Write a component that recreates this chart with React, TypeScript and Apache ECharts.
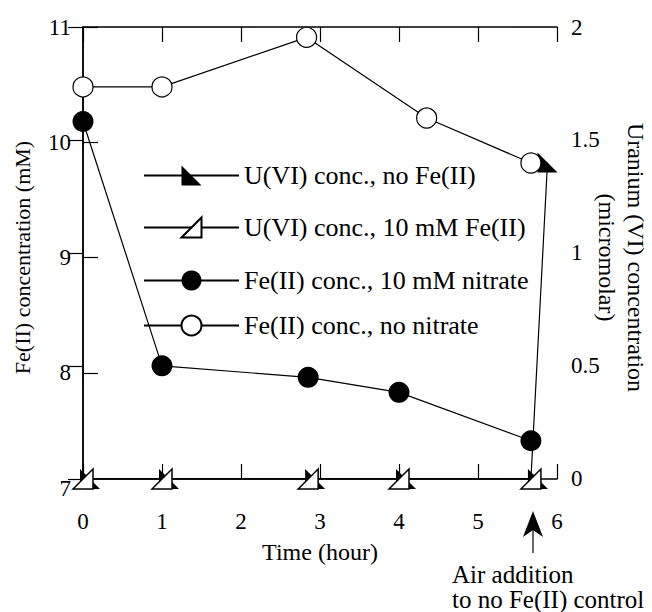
import React, { useEffect, useRef } from 'react';
import * as echarts from 'echarts';

// Data
const uTimes = [0, 1, 2.85, 4, 5.67];
const uNoFe = [0, 0, 0, 0, 0];
const uNoFeAfterAirTime = 5.88;
const uNoFeAfterAirValue = 1.4;
const uWithFe = [0, 0, 0, 0, 0];
const nitrateTimes = [0, 1, 2.85, 4, 5.67];
const feNitrate = [10.18, 8.06, 7.96, 7.83, 7.41];
const noNitrateTimes = [0, 1, 2.83, 4.35, 5.67];
const feNoNitrate = [10.48, 10.48, 10.91, 10.21, 9.82];
const rightTicks = [0, 0.5, 1, 1.5, 2];

const names = [
  'U(VI) conc., no Fe(II)',
  'U(VI) conc., 10 mM Fe(II)',
  'Fe(II) conc., 10 mM nitrate',
  'Fe(II) conc., no nitrate',
];

const FONT = '"Liberation Serif", "Times New Roman", serif';

export default function App() {
  const ref = useRef<HTMLDivElement>(null);
  useEffect(() => {
    document.body.style.margin = '0';
    const chart = echarts.init(ref.current!, undefined, { renderer: 'svg' });
    const axisLine = { show: true, lineStyle: { color: '#000', width: 1.5 } };
    const tick = { show: true, inside: true, length: 15, lineStyle: { color: '#000', width: 1.2 } };
    const lbl = { color: '#000', fontSize: 23, fontFamily: FONT };

    const filledTri = 'path://M0,0L0,10L10,10Z';
    const openTri = 'path://M10,0L10,10L0,10Z';

    const noFeData: any[] = uTimes.map((t, i) => [t, uNoFe[i]]);
    noFeData.push({ value: [uNoFeAfterAirTime, uNoFeAfterAirValue], symbolOffset: [0, 0] });

    const legendTops = [175, 227, 280, 325];

    chart.setOption({
      animation: false,
      backgroundColor: '#fff',
      textStyle: { fontFamily: FONT, color: '#000' },
      grid: { left: 83, right: 95, top: 27, bottom: 124, containLabel: false, outerBoundsMode: 'none' },
      legend: names.map((n, i) => ({
        data: [n],
        left: 143,
        top: legendTops[i] - 12.5,
        orient: 'vertical',
        itemWidth: 95,
        itemHeight: 25,
        padding: 0,
        selectedMode: false,
        textStyle: { fontSize: 26, fontFamily: FONT, color: '#000' },
      })),
      xAxis: [
        {
          type: 'value', min: 0, max: 6, interval: 1, position: 'bottom',
          name: 'Time (hour)', nameLocation: 'middle', nameGap: 52,
          nameTextStyle: { fontSize: 24, fontFamily: FONT, color: '#000' },
          axisLine, axisTick: tick, splitLine: { show: false },
          axisLabel: { ...lbl, margin: 22 },
        },
        {
          type: 'value', min: 0, max: 6, interval: 1, position: 'top',
          axisLine, axisTick: tick, splitLine: { show: false },
          axisLabel: { show: false },
        },
      ],
      yAxis: [
        {
          type: 'value', min: 7, max: 11, interval: 1, position: 'left',
          name: 'Fe(II) concentration (mM)', nameLocation: 'middle', nameGap: 50,
          nameTextStyle: { fontSize: 22, fontFamily: FONT, color: '#000' },
          axisLine, axisTick: tick, splitLine: { show: false },
          axisLabel: { ...lbl, margin: 12 },
        },
        {
          type: 'value', min: -0.04, max: 2, position: 'right',
          name: 'Uranium (VI) concentration\n(micromolar)', nameLocation: 'middle', nameGap: 35,
          nameMoveOverlap: false,
          nameRotate: -90,
          nameTextStyle: { fontSize: 24, fontFamily: FONT, color: '#000', lineHeight: 29, align: 'center' },
          axisLine, axisTick: { ...tick, customValues: rightTicks }, splitLine: { show: false },
          axisLabel: { ...lbl, margin: 14, customValues: rightTicks },
        },
      ],
      series: [
        {
          name: names[0], type: 'line', yAxisIndex: 1, xAxisIndex: 0,
          data: noFeData,
          symbol: filledTri, symbolSize: 20, symbolOffset: [7, 0],
          itemStyle: { color: '#000' },
          lineStyle: { color: '#000', width: 1.2 },
          z: 2,
        },
        {
          name: names[1], type: 'line', yAxisIndex: 1, xAxisIndex: 0,
          data: uTimes.map((t, i) => [t, uWithFe[i]]),
          symbol: openTri, symbolSize: 20,
          itemStyle: { color: '#fff', borderColor: '#000', borderWidth: 1.5 },
          lineStyle: { color: '#000', width: 1.2 },
          z: 3,
        },
        {
          name: names[2], type: 'line', yAxisIndex: 0, xAxisIndex: 0,
          data: nitrateTimes.map((t, i) => [t, feNitrate[i]]),
          symbol: 'circle', symbolSize: 21,
          itemStyle: { color: '#000' },
          lineStyle: { color: '#000', width: 1.2 },
          z: 4,
        },
        {
          name: names[3], type: 'line', yAxisIndex: 0, xAxisIndex: 0,
          data: noNitrateTimes.map((t, i) => [t, feNoNitrate[i]]),
          symbol: 'circle', symbolSize: 20,
          itemStyle: { color: '#fff', borderColor: '#000', borderWidth: 1.2 },
          lineStyle: { color: '#000', width: 1.2 },
          z: 4,
        },
      ],
      graphic: [
        { type: 'line', shape: { x1: 533, y1: 528, x2: 533, y2: 553 }, style: { stroke: '#000', lineWidth: 1.2 } },
        { type: 'polygon', shape: { points: [[533, 511], [543, 537], [533, 530], [523, 537]] }, style: { fill: '#000' } },
        { type: 'text', left: 452, top: 562, style: { text: 'Air addition\nto no Fe(II) control', fontSize: 25, lineHeight: 25, fontFamily: FONT, fill: '#000' } },
      ],
    });
    return () => chart.dispose();
  }, []);
  return <div ref={ref} style={{ width: 652, height: 612 }} />;
}
